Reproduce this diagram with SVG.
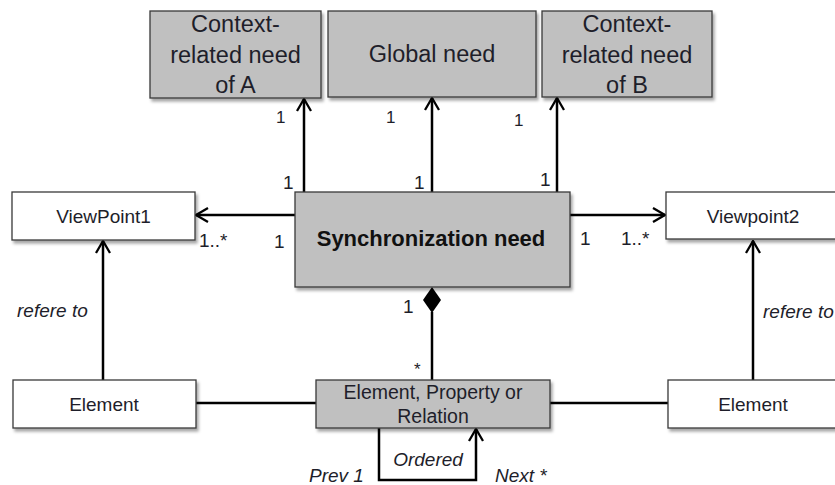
<svg xmlns="http://www.w3.org/2000/svg" width="835" height="485" viewBox="0 0 835 485">
<style>
text{font-family:"Liberation Sans",Arial,sans-serif;fill:#1e1e2a}
.box{stroke:#3a3a3a;stroke-width:1.3}
.g{fill:#c0c0c0}
.w{fill:#ffffff}
.big{font-size:23.5px}
.mid{font-size:19px}
.lab{font-size:19px}
.sm{font-size:17px}
.it{font-style:italic}
.c{text-anchor:middle}
.ln{stroke:#000;stroke-width:2.5;fill:none}
.arr{marker-end:url(#open)}
</style>
<defs>
<filter id="sh" x="-10%" y="-10%" width="130%" height="140%">
<feDropShadow dx="2" dy="3" stdDeviation="1.8" flood-color="#000" flood-opacity="0.35"/>
</filter>
<marker id="open" viewBox="0 0 14 16" refX="13" refY="8" markerWidth="14" markerHeight="16" markerUnits="userSpaceOnUse" orient="auto">
<path d="M1,1 L13,8 L1,15" fill="none" stroke="#000" stroke-width="2.3"/>
</marker>
</defs>

<g id="connectors">
<line class="ln arr" x1="304" y1="192" x2="304" y2="99"/>
<line class="ln arr" x1="432" y1="192" x2="432" y2="98"/>
<line class="ln arr" x1="557" y1="192" x2="557" y2="98"/>
<line class="ln arr" x1="295" y1="215" x2="196" y2="215"/>
<line class="ln arr" x1="570" y1="215" x2="665" y2="215"/>
<line class="ln arr" x1="103" y1="380" x2="103" y2="241"/>
<line class="ln arr" x1="753" y1="380" x2="753" y2="241"/>
<line class="ln" x1="432" y1="380" x2="432" y2="312"/>
<polygon points="432,287 441,300 432,313 423,300" fill="#000"/>
<line class="ln" x1="196" y1="403" x2="316" y2="403"/>
<line class="ln" x1="550" y1="403" x2="668" y2="403"/>
<polyline class="ln arr" points="379,428 379,480 476,480 476,429"/>
</g>

<g id="ctxA">
<rect class="box g" x="150" y="11" width="171" height="87" filter="url(#sh)"/>
<text class="big c" x="235.5" y="32">Context-</text>
<text class="big c" x="235.5" y="63">related need</text>
<text class="big c" x="235.5" y="93">of A</text>
</g>
<g id="global">
<rect class="box g" x="328" y="11" width="208" height="86" filter="url(#sh)"/>
<text class="big c" x="432" y="62">Global need</text>
</g>
<g id="ctxB">
<rect class="box g" x="542" y="11" width="170" height="86" filter="url(#sh)"/>
<text class="big c" x="627" y="32">Context-</text>
<text class="big c" x="627" y="63">related need</text>
<text class="big c" x="627" y="93">of B</text>
</g>
<g id="sync">
<rect class="box g" x="295" y="192" width="275" height="95" filter="url(#sh)"/>
<text class="c" x="431" y="246" font-size="22" font-weight="bold" style="fill:#111">Synchronization need</text>
</g>
<g id="vp1">
<rect class="box w" x="12" y="192" width="183" height="48" filter="url(#sh)"/>
<text class="mid c" x="103.5" y="223">ViewPoint1</text>
</g>
<g id="vp2">
<rect class="box w" x="666" y="192" width="175" height="47" filter="url(#sh)"/>
<text class="mid c" x="753" y="223">Viewpoint2</text>
</g>
<g id="elemL">
<rect class="box w" x="13" y="380" width="183" height="48" filter="url(#sh)"/>
<text class="mid c" x="104" y="411">Element</text>
</g>
<g id="epr">
<rect class="box g" x="316" y="380" width="234" height="48" filter="url(#sh)"/>
<text class="c" x="433" y="399" font-size="19.5">Element, Property or</text>
<text class="c" x="433" y="423" font-size="19.5">Relation</text>
</g>
<g id="elemR">
<rect class="box w" x="668" y="380" width="173" height="48" filter="url(#sh)"/>
<text class="mid c" x="753" y="411">Element</text>
</g>

<g id="labels">
<text class="sm" x="276" y="123">1</text>
<text class="sm" x="386" y="123">1</text>
<text class="sm" x="514" y="126">1</text>
<text class="lab" x="283" y="189">1</text>
<text class="lab" x="414" y="189">1</text>
<text class="lab" x="540" y="186">1</text>
<text class="lab" x="199" y="247">1..*</text>
<text class="lab" x="274" y="248">1</text>
<text class="lab" x="580" y="245">1</text>
<text class="lab" x="621" y="245">1..*</text>
<text class="lab" x="403" y="313">1</text>
<text class="sm" x="414" y="375">*</text>
<text class="lab it" x="17" y="317">refere to</text>
<text class="lab it" x="763" y="318">refere to</text>
<text class="lab it c" x="428" y="466">Ordered</text>
<text class="lab it" x="309" y="482">Prev 1</text>
<text class="lab it" x="495" y="482">Next *</text>
</g>
</svg>
